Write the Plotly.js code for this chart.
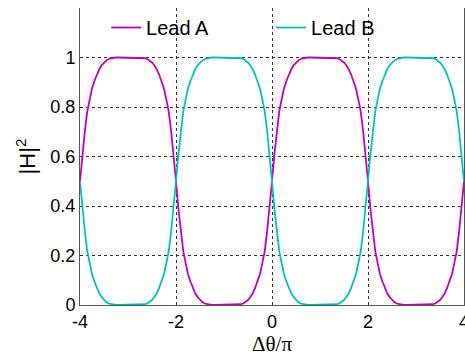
<!DOCTYPE html>
<html>
<head>
<meta charset="utf-8">
<script src="https://cdn.plot.ly/plotly-3.0.1.min.js"></script>
<style>html,body{margin:0;padding:0;background:#fff;}#chart{width:465px;height:356px;}</style>
</head>
<body>
<div id="chart"></div>
<script>
const xValues = [
-4,-3.95,-3.9,-3.85,-3.8,-3.75,-3.7,-3.65,-3.6,-3.55,-3.5,-3.45,-3.4,-3.35,-3.3,-3.25,-3.2,-3.15,-3.1,-3.05,
-3,-2.95,-2.9,-2.85,-2.8,-2.75,-2.7,-2.65,-2.6,-2.55,-2.5,-2.45,-2.4,-2.35,-2.3,-2.25,-2.2,-2.15,-2.1,-2.05,
-2,-1.95,-1.9,-1.85,-1.8,-1.75,-1.7,-1.65,-1.6,-1.55,-1.5,-1.45,-1.4,-1.35,-1.3,-1.25,-1.2,-1.15,-1.1,-1.05,
-1,-0.95,-0.9,-0.85,-0.8,-0.75,-0.7,-0.65,-0.6,-0.55,-0.5,-0.45,-0.4,-0.35,-0.3,-0.25,-0.2,-0.15,-0.1,-0.05,
0,0.05,0.1,0.15,0.2,0.25,0.3,0.35,0.4,0.45,0.5,0.55,0.6,0.65,0.7,0.75,0.8,0.85,0.9,0.95,
1,1.05,1.1,1.15,1.2,1.25,1.3,1.35,1.4,1.45,1.5,1.55,1.6,1.65,1.7,1.75,1.8,1.85,1.9,1.95,
2,2.05,2.1,2.15,2.2,2.25,2.3,2.35,2.4,2.45,2.5,2.55,2.6,2.65,2.7,2.75,2.8,2.85,2.9,2.95,
3,3.05,3.1,3.15,3.2,3.25,3.3,3.35,3.4,3.45,3.5,3.55,3.6,3.65,3.7,3.75,3.8,3.85,3.9,3.95,
4];

const leadA = [
0.5,0.61,0.70,0.78,0.83,0.875,0.905,0.93,0.952,0.968,0.98,0.988,0.994,0.997,0.999,1,1,1,1,1,
1,1,1,1,1,1,0.999,0.997,0.994,0.988,0.98,0.968,0.952,0.93,0.905,0.875,0.83,0.78,0.70,0.61,
0.5,0.39,0.30,0.22,0.17,0.125,0.095,0.07,0.048,0.032,0.02,0.012,0.006,0.003,0.001,0,0,0,0,0,
0,0,0,0,0,0,0.001,0.003,0.006,0.012,0.02,0.032,0.048,0.07,0.095,0.125,0.17,0.22,0.30,0.39,
0.5,0.61,0.70,0.78,0.83,0.875,0.905,0.93,0.952,0.968,0.98,0.988,0.994,0.997,0.999,1,1,1,1,1,
1,1,1,1,1,1,0.999,0.997,0.994,0.988,0.98,0.968,0.952,0.93,0.905,0.875,0.83,0.78,0.70,0.61,
0.5,0.39,0.30,0.22,0.17,0.125,0.095,0.07,0.048,0.032,0.02,0.012,0.006,0.003,0.001,0,0,0,0,0,
0,0,0,0,0,0,0.001,0.003,0.006,0.012,0.02,0.032,0.048,0.07,0.095,0.125,0.17,0.22,0.30,0.39,
0.5];

const leadB = [
0.5,0.39,0.30,0.22,0.17,0.125,0.095,0.07,0.048,0.032,0.02,0.012,0.006,0.003,0.001,0,0,0,0,0,
0,0,0,0,0,0,0.001,0.003,0.006,0.012,0.02,0.032,0.048,0.07,0.095,0.125,0.17,0.22,0.30,0.39,
0.5,0.61,0.70,0.78,0.83,0.875,0.905,0.93,0.952,0.968,0.98,0.988,0.994,0.997,0.999,1,1,1,1,1,
1,1,1,1,1,1,0.999,0.997,0.994,0.988,0.98,0.968,0.952,0.93,0.905,0.875,0.83,0.78,0.70,0.61,
0.5,0.39,0.30,0.22,0.17,0.125,0.095,0.07,0.048,0.032,0.02,0.012,0.006,0.003,0.001,0,0,0,0,0,
0,0,0,0,0,0,0.001,0.003,0.006,0.012,0.02,0.032,0.048,0.07,0.095,0.125,0.17,0.22,0.30,0.39,
0.5,0.61,0.70,0.78,0.83,0.875,0.905,0.93,0.952,0.968,0.98,0.988,0.994,0.997,0.999,1,1,1,1,1,
1,1,1,1,1,1,0.999,0.997,0.994,0.988,0.98,0.968,0.952,0.93,0.905,0.875,0.83,0.78,0.70,0.61,
0.5];

const seriesNames = ["Lead A", "Lead B"];
const xTicks = [-4, -2, 0, 2, 4];
const yTicks = [0, 0.2, 0.4, 0.6, 0.8, 1];
const yTickText = ["0", "0.2", "0.4", "0.6", "0.8", "1"];

const traces = [
  {x: xValues, y: leadA, name: seriesNames[0], type: "scatter", mode: "lines",
   line: {color: "#c000c0", width: 1.8}},
  {x: xValues, y: leadB, name: seriesNames[1], type: "scatter", mode: "lines",
   line: {color: "#00c0c0", width: 1.8}}
];

const layout = {
  width: 465, height: 356,
  margin: {l: 80, r: 1, t: 8, b: 51, pad: 0},
  paper_bgcolor: "#ffffff", plot_bgcolor: "#ffffff",
  font: {family: "Arial, 'Liberation Sans', sans-serif", color: "#000", size: 18},
  showlegend: true,
  legend: {orientation: "h", x: 0.068, xanchor: "left", y: 1.0, yanchor: "top",
    bgcolor: "rgba(0,0,0,0)", font: {size: 20}, entrywidth: 120, entrywidthmode: "pixels"},
  xaxis: {range: [-4, 4], tickvals: xTicks, ticktext: xTicks.map(String),
    showgrid: true, gridcolor: "#333", griddash: "dot", gridwidth: 1,
    zeroline: false, showline: true, linecolor: "#555", linewidth: 1, mirror: false,
    ticks: "", tickfont: {size: 18}, ticklabeloverflow: "allow",
    title: {text: "\u0394\u03b8/\u03c0", font: {family: "'Liberation Serif', 'Times New Roman', serif", size: 21}, standoff: 4}},
  yaxis: {range: [0, 1.2], tickvals: yTicks, ticktext: yTickText,
    showgrid: true, gridcolor: "#333", griddash: "dot", gridwidth: 1,
    zeroline: false, showline: true, linecolor: "#555", linewidth: 1, mirror: true,
    ticks: "", tickfont: {size: 18},
    title: {text: "|H|<sup>2</sup>", font: {size: 22}, standoff: 8}}
};

Plotly.newPlot("chart", traces, layout, {staticPlot: true, displayModeBar: false});
</script>
</body>
</html>
